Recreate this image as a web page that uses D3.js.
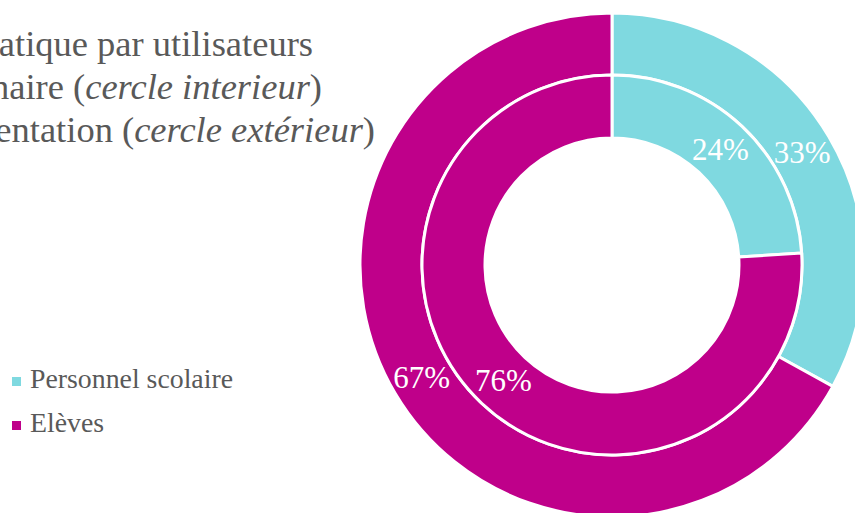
<!DOCTYPE html>
<meta charset="utf-8">
<head>
<style>
body { margin: 0; background: #fff; }
svg { display: block; }
.title { font: 36.5px "Liberation Serif", "Times New Roman", serif; fill: #595959; text-anchor: end; }
.legend text { font: 27.8px "Liberation Serif", "Times New Roman", serif; fill: #595959; }
.lbl { font: 31px "Liberation Serif", "Times New Roman", serif; fill: #fff; text-anchor: middle; }
</style>
<script src="https://d3js.org/d3.v7.min.js"></script>
</head>
<body>
<svg width="855" height="513"></svg>
<script>

// data
var categories = ["Personnel scolaire", "Elèves"];
var innerValues = [24, 76];   // cercle interieur
var outerValues = [33, 67];   // cercle extérieur
var colors = ["#7fd9e0", "#bf008a"];

// title lines (start of each line is cut off by the frame, as in the original)
var titleLines = [
  [["Répartition de l'outil informatique par utilisateurs", false]],
  [["selon le questionnaire (", false], ["cercle interieur", true], [")", false]],
  [["et selon l'expérimentation (", false], ["cercle extérieur", true], [")", false]]
];

var svg = d3.select("svg");
var cx = 612, cy = 265;

var color = d3.scaleOrdinal().domain(categories).range(colors);

var pie = d3.pie().sort(null).value(function(d) { return d.v; });

function ring(values, r0, r1) {
  var arc = d3.arc().innerRadius(r0).outerRadius(r1);
  var data = pie(values.map(function(v, i) { return { v: v, c: categories[i] }; }));
  var g = svg.append("g").attr("transform", "translate(" + cx + "," + cy + ")");
  g.selectAll("path")
    .data(data)
    .enter().append("path")
      .attr("d", arc)
      .attr("fill", function(d) { return color(d.data.c); })
      .attr("stroke", "#fff")
      .attr("stroke-width", 3);
  g.selectAll("text")
    .data(data)
    .enter().append("text")
      .attr("class", "lbl")
      .attr("transform", function(d) { return "translate(" + arc.centroid(d) + ")"; })
      .attr("dy", "0.35em")
      .text(function(d) { return d.data.v + "%"; });
}

ring(outerValues, 190, 252);
ring(innerValues, 127, 190);

// title
var ends = [313, 322, 375], bases = [56, 99, 142];
titleLines.forEach(function(line, i) {
  var t = svg.append("text").attr("class", "title")
    .attr("x", ends[i]).attr("y", bases[i]);
  line.forEach(function(part) {
    t.append("tspan")
      .style("font-style", part[1] ? "italic" : "normal")
      .text(part[0]);
  });
});

// legend
var legend = svg.append("g").attr("class", "legend")
  .selectAll("g")
  .data(categories)
  .enter().append("g")
    .attr("transform", function(d, i) { return "translate(12," + (377 + i * 44) + ")"; });

legend.append("rect")
  .attr("width", 9).attr("height", 9)
  .attr("fill", function(d) { return color(d); });

legend.append("text")
  .attr("x", 18).attr("y", 11)
  .text(function(d) { return d; });

</script>
</body>
